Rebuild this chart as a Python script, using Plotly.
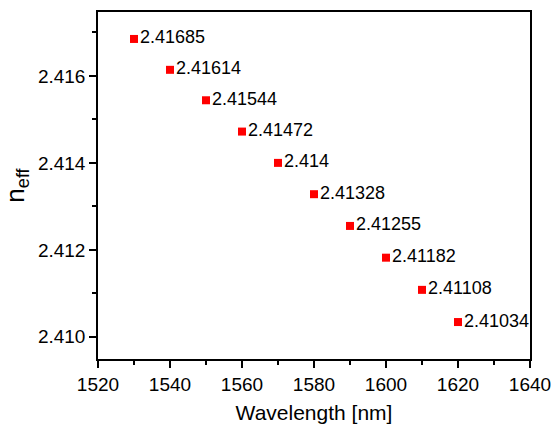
import plotly.graph_objects as go

wavelength = [1530, 1540, 1550, 1560, 1570, 1580, 1590, 1600, 1610, 1620]
neff = [2.41685, 2.41614, 2.41544, 2.41472, 2.414, 2.41328, 2.41255, 2.41182, 2.41108, 2.41034]
labels = ["2.41685", "2.41614", "2.41544", "2.41472", "2.414", "2.41328", "2.41255", "2.41182", "2.41108", "2.41034"]

FONT = "Liberation Sans, Arial, sans-serif"

fig = go.Figure()
fig.add_trace(go.Scatter(
    x=wavelength, y=neff, mode="markers+text",
    marker=dict(symbol="square", size=8, color="#ff0000"),
    text=labels, textposition="middle right",
    textfont=dict(family=FONT, size=18, color="black"),
    showlegend=False, cliponaxis=False,
))

axis_common = dict(
    showline=True, linecolor="black", linewidth=1.5, mirror=True,
    ticks="outside", tickcolor="black", tickwidth=1.5, ticklen=7,
    showgrid=False, zeroline=False, automargin=False,
    tickfont=dict(family=FONT, size=19, color="black"),
)

fig.update_xaxes(
    range=[1520, 1640], tickmode="array", tickvals=[1520, 1540, 1560, 1580, 1600, 1620, 1640],
    minor=dict(tickvals=[1530, 1550, 1570, 1590, 1610, 1630], ticks="outside", ticklen=4, tickcolor="black", tickwidth=1.5),
    title=dict(text="Wavelength [nm]", font=dict(family=FONT, size=21, color="black"), standoff=12),
    **axis_common,
)
fig.update_yaxes(
    range=[2.40949, 2.41747], tickmode="array", tickvals=[2.410, 2.412, 2.414, 2.416],
    ticktext=["2.410", "2.412", "2.414", "2.416"],
    minor=dict(tickvals=[2.411, 2.413, 2.415, 2.417], ticks="outside", ticklen=4, tickcolor="black", tickwidth=1.5),
    title=dict(text="n<sub>eff</sub>", font=dict(family=FONT, size=26, color="black"), standoff=10),
    **axis_common,
)

fig.update_layout(
    width=552, height=424,
    margin=dict(l=98, r=22, t=12, b=65),
    plot_bgcolor="white", paper_bgcolor="white",
)

fig.write_html("out.html")
